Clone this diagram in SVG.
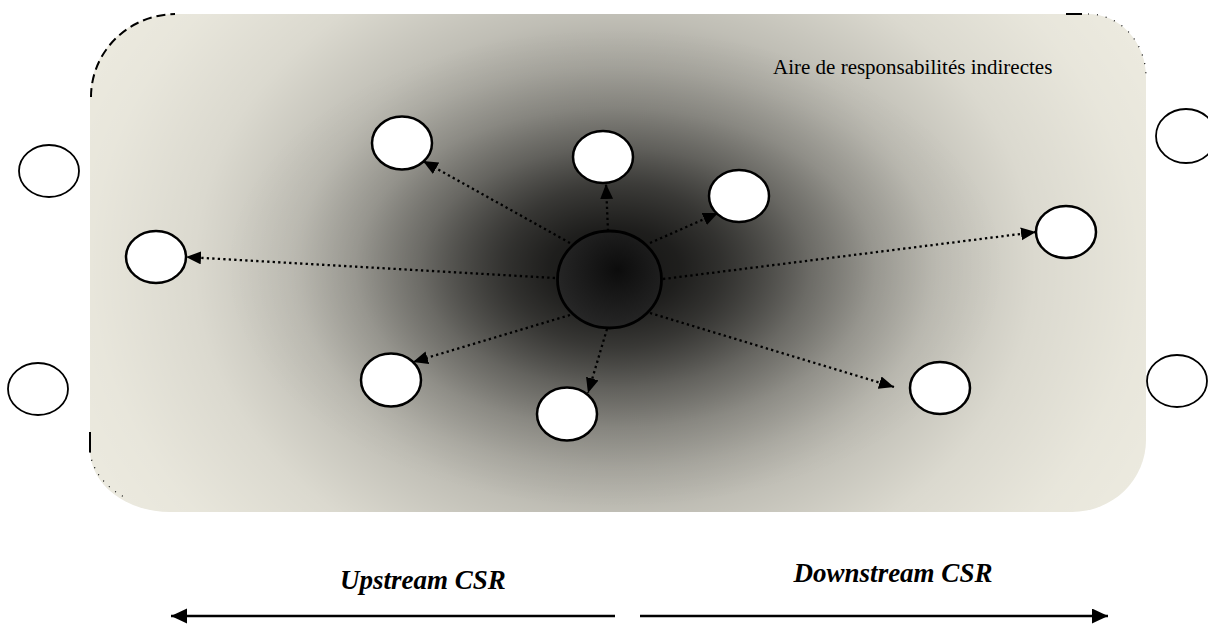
<svg xmlns="http://www.w3.org/2000/svg" width="1208" height="624" viewBox="0 0 1208 624">
<style>
.node{fill:#fff;stroke:#000;stroke-width:2.5}
.outer{fill:#fff;stroke:#000;stroke-width:1.8}
.dot{fill:none;stroke:#000;stroke-width:2.3;stroke-dasharray:2.3 3.2;marker-end:url(#tri)}
.solid{fill:none;stroke:#000;stroke-width:2.6;marker-end:url(#tri2)}
.lbl{font-family:"Liberation Serif","Times New Roman",serif;fill:#000}
.big{font-weight:bold;font-style:italic;font-size:27px;text-anchor:middle}
</style>
<defs>
<marker id="tri" markerUnits="userSpaceOnUse" markerWidth="16" markerHeight="14" refX="15" refY="6.5" orient="auto"><path d="M0,0 L15,6.5 L0,13 Z" fill="#000"/></marker>
<marker id="tri2" markerUnits="userSpaceOnUse" markerWidth="17" markerHeight="16" refX="16" refY="7.5" orient="auto"><path d="M0,0 L16,7.5 L0,15 Z" fill="#000"/></marker>
<radialGradient id="broad" gradientUnits="userSpaceOnUse" cx="0" cy="0" r="3" gradientTransform="translate(615 265) scale(210 165)">
<stop offset="0" stop-color="#000" stop-opacity="0.6"/>
<stop offset="0.167" stop-color="#000" stop-opacity="0.53"/>
<stop offset="0.333" stop-color="#000" stop-opacity="0.364"/>
<stop offset="0.5" stop-color="#000" stop-opacity="0.195"/>
<stop offset="0.667" stop-color="#000" stop-opacity="0.081"/>
<stop offset="0.833" stop-color="#000" stop-opacity="0.026"/>
<stop offset="1" stop-color="#000" stop-opacity="0"/>
</radialGradient>
<radialGradient id="narrow" gradientUnits="userSpaceOnUse" cx="0" cy="0" r="3" gradientTransform="translate(615 268) scale(130 80)">
<stop offset="0" stop-color="#000" stop-opacity="0.8"/>
<stop offset="0.167" stop-color="#000" stop-opacity="0.71"/>
<stop offset="0.333" stop-color="#000" stop-opacity="0.49"/>
<stop offset="0.5" stop-color="#000" stop-opacity="0.26"/>
<stop offset="0.667" stop-color="#000" stop-opacity="0.108"/>
<stop offset="0.833" stop-color="#000" stop-opacity="0.035"/>
<stop offset="1" stop-color="#000" stop-opacity="0"/>
</radialGradient>
<radialGradient id="hub" cx="0.58" cy="0.4" r="0.6"><stop offset="0" stop-color="#0c0c0c"/><stop offset="1" stop-color="#262626"/></radialGradient>
</defs>
<g id="area">
<path d="M175,14 H1088 A58,63 0 0 1 1146,77 V440 A74,72 0 0 1 1072,512 H170 A80,62 0 0 1 90,450 V97 A85,83 0 0 1 175,14 Z" fill="#EEECE1"/>
<path d="M175,14 H1088 A58,63 0 0 1 1146,77 V440 A74,72 0 0 1 1072,512 H170 A80,62 0 0 1 90,450 V97 A85,83 0 0 1 175,14 Z" fill="url(#broad)"/>
<path d="M175,14 H1088 A58,63 0 0 1 1146,77 V440 A74,72 0 0 1 1072,512 H170 A80,62 0 0 1 90,450 V97 A85,83 0 0 1 175,14 Z" fill="url(#narrow)"/>
<path d="M91,97 A85,83 0 0 1 175,14" fill="none" stroke="#000" stroke-width="2" stroke-dasharray="9 5"/>
<path d="M1066,14 H1082" fill="none" stroke="#000" stroke-width="2"/>
<path d="M1088,14 A58,63 0 0 1 1146,77" fill="none" stroke="#000" stroke-width="1.2" stroke-dasharray="1 8"/>
<path d="M90,432 V452" fill="none" stroke="#000" stroke-width="2"/>
<path d="M90,452 A80,62 0 0 0 126,498" fill="none" stroke="#000" stroke-width="1.2" stroke-dasharray="1 7"/>
<text class="lbl" x="773" y="74" font-size="21">Aire de responsabilités indirectes</text>
</g>
<g id="connectors">
<line class="dot" x1="570" y1="243" x2="423" y2="161"/>
<line class="dot" x1="608" y1="231" x2="606" y2="184"/>
<line class="dot" x1="650" y1="243" x2="718" y2="213"/>
<line class="dot" x1="555" y1="278" x2="186" y2="257"/>
<line class="dot" x1="663" y1="279" x2="1036" y2="232"/>
<line class="dot" x1="570" y1="315" x2="413" y2="362"/>
<line class="dot" x1="607" y1="329" x2="588" y2="393"/>
<line class="dot" x1="650" y1="313" x2="894" y2="387"/>
<line class="solid" x1="615" y1="616" x2="171" y2="616"/>
<line class="solid" x1="640" y1="616" x2="1108" y2="616"/>
</g>
<g id="hub"><ellipse cx="609.5" cy="279.5" rx="52" ry="48.5" fill="url(#hub)" stroke="#000" stroke-width="2.8"/></g>
<g id="n1"><ellipse class="node" cx="402" cy="143" rx="30" ry="26.5"/></g>
<g id="n2"><ellipse class="node" cx="603" cy="157" rx="30" ry="26"/></g>
<g id="n3"><ellipse class="node" cx="739" cy="196" rx="30" ry="26"/></g>
<g id="n4"><ellipse class="node" cx="156" cy="257" rx="30" ry="26"/></g>
<g id="n5"><ellipse class="node" cx="1066" cy="232" rx="30" ry="26"/></g>
<g id="n6"><ellipse class="node" cx="391" cy="380" rx="30" ry="26.5"/></g>
<g id="n7"><ellipse class="node" cx="567" cy="414" rx="30" ry="26.5"/></g>
<g id="n8"><ellipse class="node" cx="940" cy="388" rx="30" ry="26"/></g>
<g id="o1"><ellipse class="outer" cx="49" cy="171" rx="30" ry="26"/></g>
<g id="o2"><ellipse class="outer" cx="1186" cy="136" rx="30" ry="27"/></g>
<g id="o3"><ellipse class="outer" cx="38" cy="389" rx="30" ry="26"/></g>
<g id="o4"><ellipse class="outer" cx="1177" cy="381" rx="30" ry="26"/></g>
<g id="labels">
<text class="lbl big" x="423" y="589">Upstream CSR</text>
<text class="lbl big" x="893" y="582">Downstream CSR</text>
</g>
</svg>
